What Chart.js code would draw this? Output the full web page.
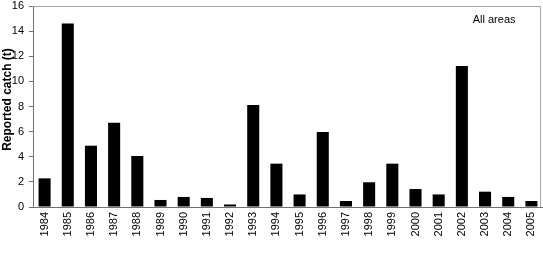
<!DOCTYPE html>
<html>
<head>
<meta charset="utf-8">
<script src="https://cdn.jsdelivr.net/npm/chart.js@4"></script>
<style>
  html, body { margin: 0; padding: 0; background: #fff; }
  #wrap { width: 543px; height: 267px; position: relative; }
</style>
</head>
<body>
<div id="wrap"><canvas id="catchChart"></canvas></div>
<script>
// Reported catch by year, all areas
const years = ['1984','1985','1986','1987','1988','1989','1990','1991','1992','1993','1994',
  '1995','1996','1997','1998','1999','2000','2001','2002','2003','2004','2005'];
const catchT = [2.28, 14.6, 4.88, 6.7, 4.06, 0.56, 0.8, 0.72, 0.2, 8.12, 3.45,
  1.0, 5.97, 0.48, 1.97, 3.45, 1.43, 1.0, 11.23, 1.22, 0.8, 0.48];
const yTicks = [0, 2, 4, 6, 8, 10, 12, 14, 16];
const yTitle = 'Reported catch (t)';
const note = 'All areas';

const FONT = 'Arial, "Liberation Sans", sans-serif';

// light grey top/right frame, the y title and the "All areas" note
const framePlugin = {
  id: 'frame',
  afterDraw(chart) {
    const { ctx, chartArea: a } = chart;
    const r = a.right - 2.5;
    ctx.save();
    ctx.strokeStyle = '#a8a8a8';
    ctx.lineWidth = 1;
    ctx.beginPath();
    ctx.moveTo(a.left, a.top + 0.5);
    ctx.lineTo(r, a.top + 0.5);
    ctx.lineTo(r, a.bottom);
    ctx.stroke();
    ctx.fillStyle = '#000';
    ctx.font = '11px ' + FONT;
    ctx.textAlign = 'right';
    ctx.textBaseline = 'middle';
    ctx.fillText(note, r - 25, a.top + 14);

    ctx.translate(8, (a.top + a.bottom) / 2 - 7);
    ctx.rotate(-Math.PI / 2);
    ctx.font = 'bold 12px ' + FONT;
    ctx.textAlign = 'center';
    ctx.fillText(yTitle, 0, 0);
    ctx.restore();
  }
};

new Chart(document.getElementById('catchChart'), {
  type: 'bar',
  data: {
    labels: years,
    datasets: [{ data: catchT, backgroundColor: '#000', barPercentage: 0.52, categoryPercentage: 1 }]
  },
  options: {
    responsive: true,
    maintainAspectRatio: false,
    animation: false,
    layout: { padding: { top: 6, right: 0, left: 0, bottom: 0 } },
    plugins: { legend: { display: false }, tooltip: { enabled: false } },
    scales: {
      x: {
        grid: { display: false, drawTicks: false },
        border: { color: '#707070', width: 1 },
        ticks: { color: '#000', font: { family: FONT, size: 11 }, minRotation: 90, maxRotation: 90, padding: 5, autoSkip: false },
        afterFit: s => { s.height = 60; s.paddingLeft = 0; s.paddingRight = 0; }
      },
      y: {
        min: 0, max: 16,
        afterBuildTicks: s => { s.ticks = yTicks.map(v => ({ value: v })); },
        grid: { drawOnChartArea: false, tickLength: 4, color: '#707070' },
        border: { color: '#707070', width: 1 },
        ticks: { color: '#000', font: { family: FONT, size: 11 }, padding: 5 },
        afterFit: s => { s.width = 33; s.paddingTop = 0; s.paddingBottom = 0; }
      }
    }
  },
  plugins: [framePlugin]
});
</script>
</body>
</html>
